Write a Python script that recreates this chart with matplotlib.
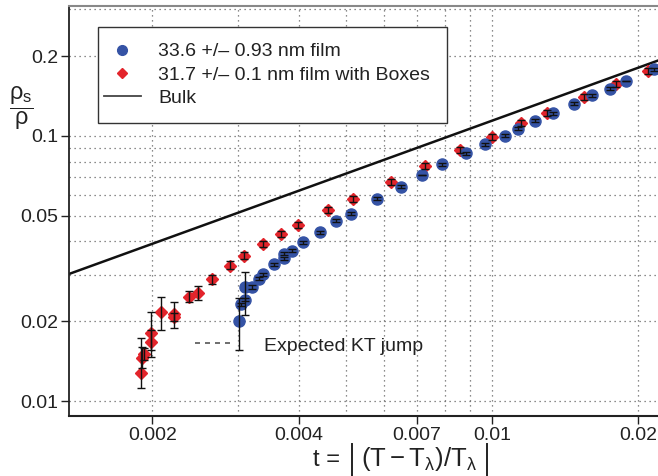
import matplotlib
matplotlib.use('Agg')
import matplotlib.pyplot as plt
from matplotlib.lines import Line2D
from matplotlib.patches import Rectangle

plt.rcParams['font.family'] = ['Liberation Sans', 'DejaVu Sans']
plt.rcParams['mathtext.fontset'] = 'custom'
plt.rcParams['mathtext.rm'] = 'Liberation Sans'
plt.rcParams['mathtext.it'] = 'Liberation Sans:italic'
plt.rcParams['mathtext.sf'] = 'Liberation Sans'

# 33.6 nm film (blue circles)
t_blue = [0.00301, 0.00304, 0.00311, 0.00311, 0.00321, 0.00332, 0.00338, 0.00356,
          0.00373, 0.00373, 0.00387, 0.00408, 0.00443, 0.00478, 0.00512, 0.00581,
          0.00651, 0.00719, 0.00788, 0.00884, 0.00966, 0.01063, 0.01133, 0.01228,
          0.01337, 0.01473, 0.01608, 0.01749, 0.01884, 0.02154]
rho_blue = [0.0200, 0.0232, 0.0241, 0.0269, 0.0269, 0.0289, 0.0301, 0.0328,
            0.0360, 0.0345, 0.0369, 0.0397, 0.0433, 0.0478, 0.0508, 0.0580,
            0.0644, 0.0715, 0.0782, 0.0860, 0.0931, 0.1000, 0.1063, 0.1142,
            0.1218, 0.1321, 0.1424, 0.1508, 0.1608, 0.1785]
blue_lo = [0.0044, 0.0003, 0.0003, 0.0058, 0.0004, 0.0004, 0.0004, 0.0004,
           0.0005, 0.0005, 0.0005, 0.0005, 0.0006, 0.0006, 0.0007, 0.0008,
           0.0008, 0.0, 0.0010, 0.0011, 0.0012, 0.0013, 0.0014, 0.0015,
           0.0016, 0.0017, 0.0018, 0.0020, 0.0, 0.0023]
blue_hi = [0.0044, 0.0003, 0.0003, 0.0038, 0.0004, 0.0004, 0.0004, 0.0004,
           0.0005, 0.0005, 0.0005, 0.0005, 0.0006, 0.0006, 0.0007, 0.0008,
           0.0008, 0.0, 0.0010, 0.0011, 0.0012, 0.0013, 0.0014, 0.0015,
           0.0016, 0.0017, 0.0018, 0.0020, 0.0, 0.0023]

# 31.7 nm film with boxes (red diamonds)
t_red = [0.001893, 0.001905, 0.001926, 0.001988, 0.001988, 0.002085, 0.002217,
         0.002217, 0.002383, 0.002488, 0.002655, 0.002890, 0.003088, 0.003384,
         0.003688, 0.003985, 0.004591, 0.005184, 0.006190, 0.007281, 0.008594,
         0.009986, 0.01147, 0.01296, 0.01549, 0.01797, 0.02098]
rho_red = [0.0127, 0.01453, 0.01504, 0.01665, 0.01801, 0.02162, 0.02130,
           0.02075, 0.02475, 0.02563, 0.02877, 0.03240, 0.03535, 0.03913,
           0.04268, 0.04615, 0.05258, 0.05770, 0.06723, 0.07726, 0.08816,
           0.0994, 0.1117, 0.1224, 0.1400, 0.1567, 0.1759]
red_lo = [0.0015, 0.0012, 0.0008, 0.0020, 0.0025, 0.0031, 0.0025,
          0.0008, 0.0011, 0.0016, 0.0012, 0.0010, 0.0010, 0.0010,
          0.0011, 0.0012, 0.0014, 0.0015, 0.0017, 0.0020, 0.0023,
          0.0026, 0.0029, 0.0032, 0.0036, 0.0041, 0.0046]
red_hi = [0.0046, 0.0015, 0.0008, 0.0019, 0.0037, 0.0031, 0.0024,
          0.0008, 0.0013, 0.0015, 0.0011, 0.0012, 0.0011, 0.0010,
          0.0011, 0.0012, 0.0014, 0.0015, 0.0017, 0.0020, 0.0023,
          0.0026, 0.0029, 0.0032, 0.0036, 0.0041, 0.0046]

# bulk line (straight on log-log) and the KT-jump marker
bulk_t = [0.001348, 0.02196]
bulk_rho = [0.03014, 0.1924]
kt_t = [0.00245, 0.00292]
kt_rho = [0.01651, 0.01651]

xtick_vals = [0.002, 0.004, 0.007, 0.01, 0.02]
xtick_labels = ['0.002', '0.004', '0.007', '0.01', '0.02']
xgrid_minor = [0.003, 0.005, 0.006, 0.008, 0.009]
ytick_vals = [0.01, 0.02, 0.05, 0.1, 0.2]
ytick_labels = ['0.01', '0.02', '0.05', '0.1', '0.2']
ygrid_minor = [0.03, 0.04, 0.06, 0.07, 0.08, 0.09, 0.3]

blue = '#3553a5'
red = '#e3242b'
W, H = 658, 476

fig = plt.figure(figsize=(6.58, 4.76), dpi=100)
ax = fig.add_axes([69/W, 60/H, 589/W, 410/H])
ax.set_xscale('log')
ax.set_yscale('log')
ax.set_xlim(0.001348, 0.02196)
ax.set_ylim(0.00878, 0.309)

ax.plot(bulk_t, bulk_rho, color='#111111', lw=1.8, zorder=2)

ax.plot(t_red, rho_red, ls='none', marker='D', ms=6, color=red, mec=red, zorder=3)
ax.plot(t_blue, rho_blue, ls='none', marker='o', ms=8, color=blue, mec=blue, zorder=3.1)
ax.errorbar(t_red, rho_red, yerr=[red_lo, red_hi], fmt='none', ecolor='#111111',
            elinewidth=1, capsize=3, capthick=1, zorder=4)
ax.errorbar(t_blue, rho_blue, yerr=[blue_lo, blue_hi], fmt='none', ecolor='#111111',
            elinewidth=1, capsize=3, capthick=1, zorder=4)

ax.plot(kt_t, kt_rho, color='#555555', lw=1.2, ls=(0, (3, 3)), zorder=2)
ax.text(0.003396, 0.01599, 'Expected KT jump', fontsize=14, color='#222222',
        ha='left', va='center')

ax.set_xticks(xtick_vals)
ax.set_xticklabels(xtick_labels)
ax.set_xticks(xgrid_minor, minor=True)
ax.set_xticklabels([], minor=True)
ax.set_yticks(ytick_vals)
ax.set_yticklabels(ytick_labels)
ax.set_yticks(ygrid_minor, minor=True)
ax.set_yticklabels([], minor=True)
ax.tick_params(which='major', direction='out', length=6, width=1, pad=2,
               labelsize=14, colors='#222222')
ax.tick_params(which='minor', length=0)
ax.grid(True, which='both', color='#666666', lw=0.9, ls=(0, (1, 3)))
ax.set_axisbelow(True)

ax.spines['right'].set_visible(False)
ax.spines['left'].set_color('#222222')
ax.spines['left'].set_linewidth(1.3)
ax.spines['bottom'].set_color('#222222')
ax.spines['bottom'].set_linewidth(1.5)
ax.spines['top'].set_color('#888888')
ax.spines['top'].set_linewidth(1.5)

# legend: entries without frame, box drawn separately for exact padding
handles = [Line2D([], [], ls='none', marker='o', ms=7, color=blue),
           Line2D([], [], ls='none', marker='D', ms=5, color=red),
           Line2D([], [], color='#444444', lw=1.3)]
labels = ['33.6 +/\u2013 0.93 nm film',
          '31.7 +/\u2013 0.1 nm film with Boxes',
          'Bulk']
leg = ax.legend(handles, labels, loc='center left', bbox_to_anchor=(0.0594, 0.8317),
                borderaxespad=0, borderpad=0, fontsize=14, frameon=False,
                handlelength=1.9, handletextpad=0.88, labelspacing=0.3)
for txt in leg.get_texts():
    txt.set_color('#222222')
ax.add_patch(Rectangle((0.0492, 0.7146), 0.5925, 0.2341, transform=ax.transAxes,
                       facecolor='white', edgecolor='#333333', lw=1.0, zorder=4.5))
leg.set_zorder(5)

# y label: rho_s / rho as a stacked fraction
fig.text(21/W, 1 - 108/H, r'$\dfrac{\mathrm{\rho_s}}{\mathrm{\rho}}$',
         fontsize=17, ha='center', va='center', color='#222222')

# x label built from pieces so the absolute-value bars can be tall and thin
base = 1 - 466/H
fig.text(313/W, base, 't =', fontsize=17, ha='left', va='baseline', color='#222222')
fig.text(419/W, base,
         r'$(\mathrm{T}-\mathrm{T}_{\mathrm{\lambda}})/\mathrm{T}_{\mathrm{\lambda}}$',
         fontsize=18.5, ha='center', va='baseline', color='#222222')
for bx in (352, 487):
    fig.add_artist(Line2D([bx/W, bx/W], [1 - 444/H, 1 - 476/H],
                          transform=fig.transFigure, color='#222222', lw=1.4))

fig.savefig('out.png', dpi=100)
